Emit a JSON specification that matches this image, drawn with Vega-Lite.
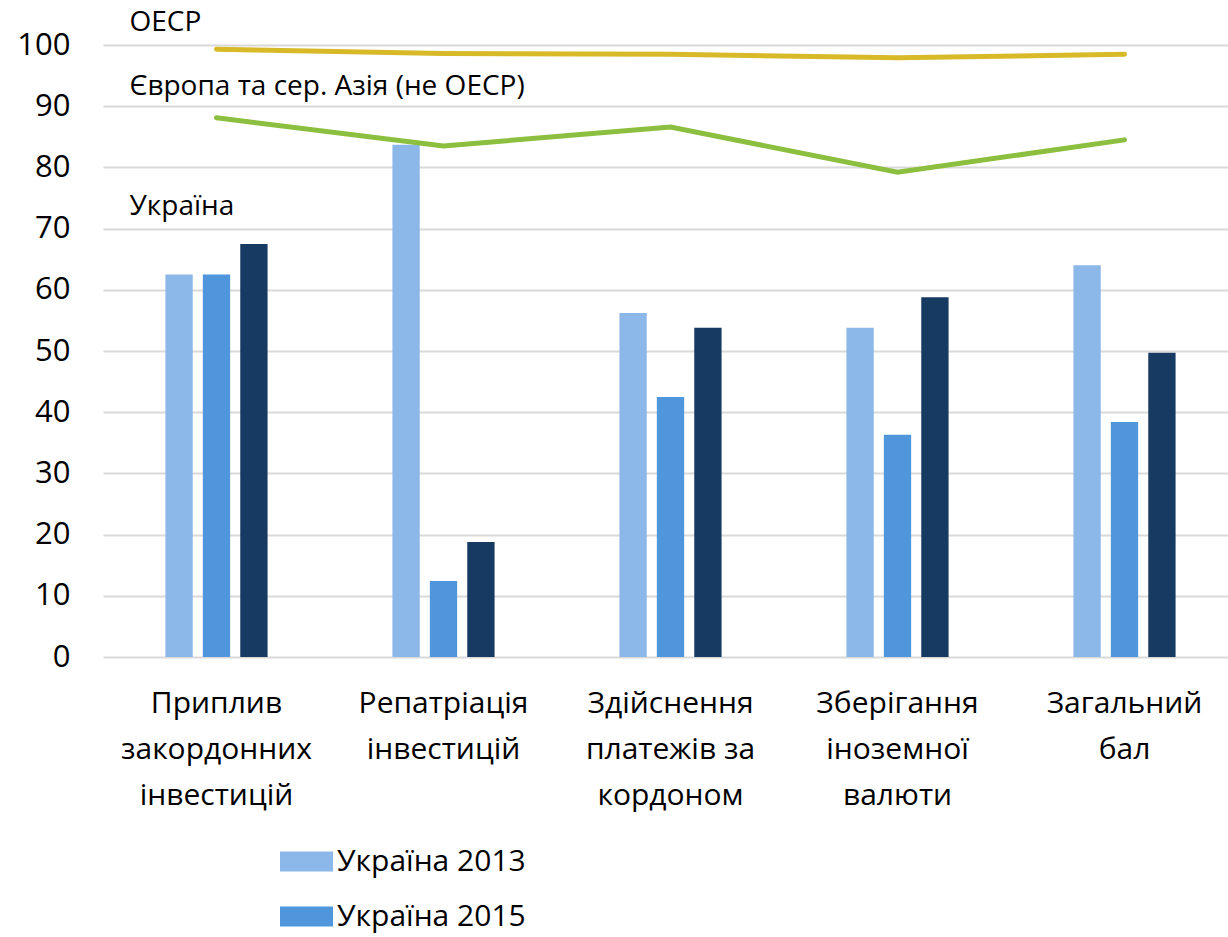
{
  "$schema": "https://vega.github.io/schema/vega-lite/v6.json",
  "autosize": {"type": "none"},
  "padding": {"left": 103, "top": 45, "right": 0, "bottom": 280},
  "width": 1135,
  "height": 612,
  "background": "white",
  "config": {
    "font": "Open Sans",
    "view": {"stroke": null}
  },
  "datasets": {
    "bars": [
      {"cat": "Приплив|закордонних|інвестицій", "series": "Україна 2013", "value": 62.5},
      {"cat": "Приплив|закордонних|інвестицій", "series": "Україна 2015", "value": 62.5},
      {"cat": "Приплив|закордонних|інвестицій", "series": "Україна 2017", "value": 67.5},
      {"cat": "Репатріація|інвестицій", "series": "Україна 2013", "value": 83.7},
      {"cat": "Репатріація|інвестицій", "series": "Україна 2015", "value": 12.4},
      {"cat": "Репатріація|інвестицій", "series": "Україна 2017", "value": 18.8},
      {"cat": "Здійснення|платежів за|кордоном", "series": "Україна 2013", "value": 56.2},
      {"cat": "Здійснення|платежів за|кордоном", "series": "Україна 2015", "value": 42.5},
      {"cat": "Здійснення|платежів за|кордоном", "series": "Україна 2017", "value": 53.8},
      {"cat": "Зберігання|іноземної|валюти", "series": "Україна 2013", "value": 53.8},
      {"cat": "Зберігання|іноземної|валюти", "series": "Україна 2015", "value": 36.3},
      {"cat": "Зберігання|іноземної|валюти", "series": "Україна 2017", "value": 58.8},
      {"cat": "Загальний|бал", "series": "Україна 2013", "value": 64.0},
      {"cat": "Загальний|бал", "series": "Україна 2015", "value": 38.4},
      {"cat": "Загальний|бал", "series": "Україна 2017", "value": 49.7}
    ],
    "lines": [
      {"cat": "Приплив|закордонних|інвестицій", "series": "OECP", "value": 99.3},
      {"cat": "Репатріація|інвестицій", "series": "OECP", "value": 98.6},
      {"cat": "Здійснення|платежів за|кордоном", "series": "OECP", "value": 98.5},
      {"cat": "Зберігання|іноземної|валюти", "series": "OECP", "value": 97.9},
      {"cat": "Загальний|бал", "series": "OECP", "value": 98.5},
      {"cat": "Приплив|закордонних|інвестицій", "series": "Європа", "value": 88.1},
      {"cat": "Репатріація|інвестицій", "series": "Європа", "value": 83.5},
      {"cat": "Здійснення|платежів за|кордоном", "series": "Європа", "value": 86.6},
      {"cat": "Зберігання|іноземної|валюти", "series": "Європа", "value": 79.2},
      {"cat": "Загальний|бал", "series": "Європа", "value": 84.5}
    ],
    "notes": [
      {"cat": "Приплив|закордонних|інвестицій", "label": "OECP", "value": 103.6},
      {"cat": "Приплив|закордонних|інвестицій", "label": "Європа та сер. Азія (не OECP)", "value": 93.1},
      {"cat": "Приплив|закордонних|інвестицій", "label": "Україна", "value": 73.5}
    ]
  },
  "layer": [
    {
      "data": {"name": "bars"},
      "mark": {"type": "bar"},
      "encoding": {
        "x": {
          "field": "cat", "type": "nominal", "sort": null,
          "scale": {"paddingInner": 0.55, "paddingOuter": 0.275},
          "axis": {
            "title": null, "domain": false, "ticks": false, "grid": false,
            "labelAngle": 0, "labelFontSize": 30, "labelColor": "black",
            "labelExpr": "split(datum.label, '|')", "labelLineHeight": 46,
            "labelPadding": 31, "labelBaseline": "top", "labelLimit": 0, "labelOverlap": false
          }
        },
        "xOffset": {"field": "series", "type": "nominal", "scale": {"paddingInner": 0.27}},
        "y": {
          "field": "value", "type": "quantitative",
          "scale": {"domain": [0, 100]},
          "axis": {
            "title": null, "domain": false, "ticks": false, "values": [0,10,20,30,40,50,60,70,80,90,100],
            "labelFontSize": 31, "labelColor": "black", "labelPadding": 33,
            "gridColor": "#D9D9D9", "gridWidth": 2
          }
        },
        "color": {
          "field": "series", "type": "nominal",
          "scale": {"domain": ["Україна 2013", "Україна 2015", "Україна 2017"], "range": ["#8BB8E8", "#4F96DC", "#163A61"]},
          "legend": {
            "title": null, "orient": "none", "legendX": 177, "legendY": 790,
            "direction": "vertical",
            "values": ["Україна 2013", "Україна 2015"],
            "symbolType": "M-1,-0.38H1V0.38H-1Z", "symbolSize": 2809,
            "symbolStrokeWidth": 0,
            "labelFontSize": 30, "labelColor": "black", "labelOffset": 4, "labelLimit": 0,
            "rowPadding": 13
          }
        }
      }
    },
    {
      "data": {"name": "lines"},
      "mark": {"type": "line", "strokeWidth": 5, "strokeCap": "round"},
      "encoding": {
        "x": {"field": "cat", "type": "nominal", "sort": null},
        "y": {"field": "value", "type": "quantitative"},
        "color": {
          "field": "series", "type": "nominal",
          "scale": {"domain": ["OECP", "Європа"], "range": ["#D8BA28", "#8CBF3F"]},
          "legend": null
        }
      }
    },
    {
      "data": {"name": "notes"},
      "mark": {"type": "text", "align": "left", "baseline": "middle", "dx": -87, "fontSize": 28, "color": "black", "clip": false},
      "encoding": {
        "x": {"field": "cat", "type": "nominal", "sort": null},
        "y": {"field": "value", "type": "quantitative"},
        "text": {"field": "label"}
      }
    }
  ],
  "resolve": {"scale": {"color": "independent"}}
}
